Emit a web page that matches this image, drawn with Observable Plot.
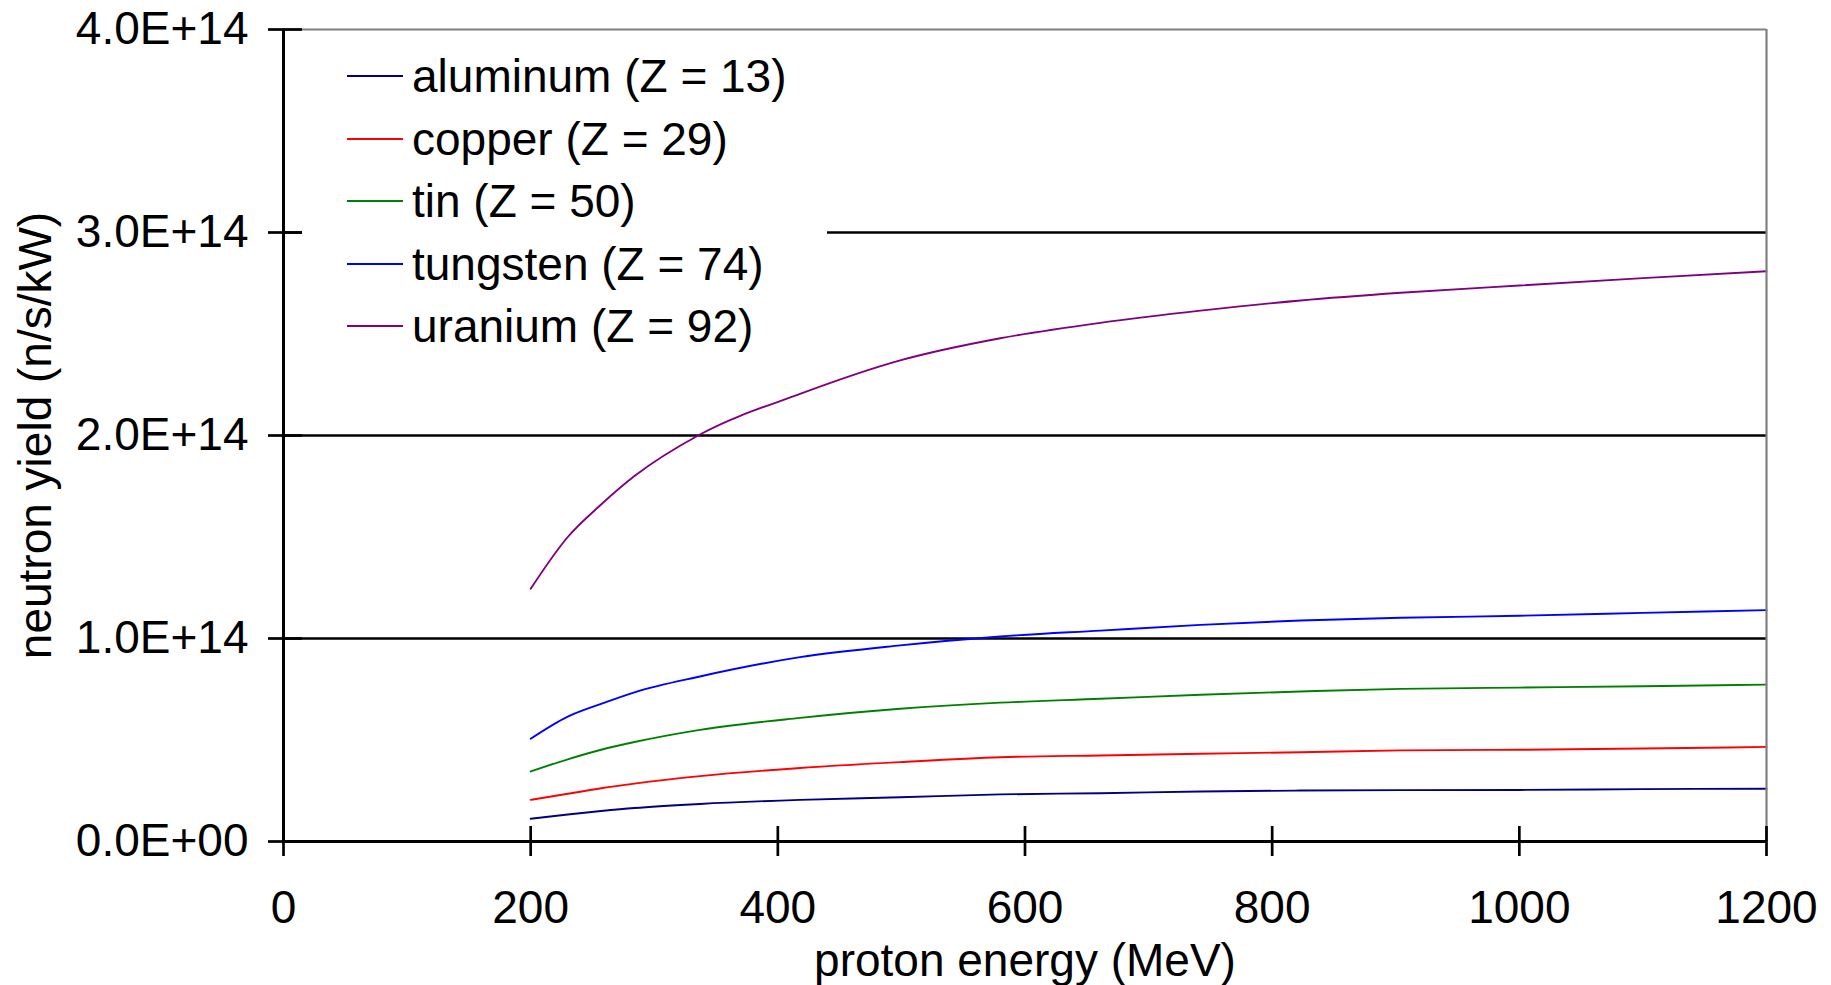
<!DOCTYPE html>
<html>
<head>
<meta charset="utf-8">
<script src="https://cdn.jsdelivr.net/npm/d3@7"></script>
<script src="https://cdn.jsdelivr.net/npm/@observablehq/plot@0.6"></script>
<style>
  html, body { margin: 0; padding: 0; background: #fff; }
  #wrap { position: relative; width: 1831px; height: 985px; font-family: "Liberation Sans", Arial, sans-serif; }
  #legend { position: absolute; left: 302px; top: 42px; width: 525px; height: 318px; background: #fff; }
  .row { position: absolute; left: 45px; height: 62px; display: flex; align-items: center; white-space: nowrap; }
  .swatch { display: inline-block; width: 56px; height: 2px; }
  .lab { margin-left: 9px; font-size: 46px; line-height: 1; color: #000; }
</style>
</head>
<body>
<div id="wrap"></div>
<script>
// ---- data (values in n/s/kW) ----
const energies = [200, 230, 257, 284, 337, 418, 499, 580, 661, 742, 823, 904, 1000, 1100, 1200];
const aluminum = [0.112, 0.133, 0.150, 0.165, 0.185, 0.205, 0.218, 0.232, 0.238, 0.246, 0.251, 0.253, 0.254, 0.258, 0.260].map(v => v * 1e14);
const copper   = [0.205, 0.235, 0.262, 0.285, 0.322, 0.362, 0.391, 0.415, 0.424, 0.432, 0.440, 0.449, 0.452, 0.458, 0.466].map(v => v * 1e14);
const tin      = [0.345, 0.405, 0.452, 0.490, 0.550, 0.609, 0.654, 0.684, 0.703, 0.723, 0.739, 0.752, 0.758, 0.765, 0.773].map(v => v * 1e14);
const tungsten = [0.506, 0.615, 0.678, 0.735, 0.813, 0.908, 0.966, 1.010, 1.039, 1.067, 1.089, 1.102, 1.112, 1.126, 1.140].map(v => v * 1e14);
const uranium  = [1.245, 1.500, 1.660, 1.800, 2.005, 2.205, 2.370, 2.479, 2.555, 2.615, 2.665, 2.703, 2.739, 2.775, 2.809].map(v => v * 1e14);

const seriesNames = ["aluminum (Z = 13)", "copper (Z = 29)", "tin (Z = 50)", "tungsten (Z = 74)", "uranium (Z = 92)"];
const seriesValues = [aluminum, copper, tin, tungsten, uranium];
const seriesColors = ["#000080", "#ff0000", "#008000", "#0000ff", "#800080"];

const xTicks = [0, 200, 400, 600, 800, 1000, 1200];
const yTicks = [0, 1e14, 2e14, 3e14, 4e14];
const gridTicks = [1e14, 2e14, 3e14];
const xTitle = "proton energy (MeV)";
const yTitle = "neutron yield (n/s/kW)";

// ---- table ----
const rows = [];
seriesNames.forEach((name, s) => {
  energies.forEach((e, i) => rows.push({energy: e, value: seriesValues[s][i], material: name}));
});

const fmt = d => {
  const [m, e] = d.toExponential(1).split("e");
  const sign = e[0] === "-" ? "-" : "+";
  return m + "E" + sign + e.replace(/[+-]/, "").padStart(2, "0");
};

const FS = 46;

const chart = Plot.plot({
  width: 1831,
  height: 985,
  marginLeft: 283,
  marginRight: 65,
  marginTop: 29,
  marginBottom: 144,
  x: {domain: [0, 1200], label: null},
  y: {domain: [0, 4e14], label: null},
  color: {domain: seriesNames, range: seriesColors},
  style: {fontFamily: "'Liberation Sans', Arial, sans-serif", fontSize: FS + "px", color: "#000", background: "#fff", overflow: "visible"},
  marks: [
    Plot.ruleY(gridTicks, {stroke: "#000", strokeWidth: 2.5}),
    Plot.line(rows, {x: "energy", y: "value", z: "material", stroke: "material", strokeWidth: 1.9, curve: "monotone-x"}),
    Plot.ruleY([4e14], {stroke: "#808080", strokeWidth: 2.2}),
    Plot.ruleX([1200], {stroke: "#808080", strokeWidth: 2.2}),
    Plot.ruleX([0], {stroke: "#000", strokeWidth: 3}),
    Plot.ruleY([0], {stroke: "#000", strokeWidth: 3}),
    Plot.axisX(xTicks, {tickSize: 15, tickPadding: 34, fontSize: FS, strokeWidth: 2.7, tickFormat: d => String(d)}),
    Plot.ruleX(xTicks, {x: d => d, y1: 0, y2: 0, insetTop: -15, stroke: "#000", strokeWidth: 2.7}),
    Plot.axisY(yTicks, {tickSize: 15, tickPadding: 20, fontSize: FS, strokeWidth: 2.7, tickFormat: fmt}),
    Plot.ruleY(yTicks, {y: d => d, x1: 0, x2: 0, insetRight: -19, stroke: "#000", strokeWidth: 2.7}),
    Plot.text([xTitle], {text: d => d, frameAnchor: "bottom", textAnchor: "middle", lineAnchor: "bottom", dy: 134, fontSize: FS, fill: "#000"}),
    Plot.text([yTitle], {text: d => d, frameAnchor: "left", textAnchor: "middle", lineAnchor: "bottom", rotate: -90, dx: -233, fontSize: FS, fill: "#000"})
  ]
});

const wrap = document.getElementById("wrap");
wrap.appendChild(chart);

// ---- legend (overlay inside plot area) ----
const legend = document.createElement("div");
legend.id = "legend";
const legendTop = 42, firstRow = 76.3, rowStep = 62.4;
seriesNames.forEach((name, i) => {
  const row = document.createElement("div");
  row.className = "row";
  row.style.top = (firstRow + i * rowStep - legendTop - 31) + "px";
  const sw = document.createElement("span");
  sw.className = "swatch";
  sw.style.background = seriesColors[i];
  const lab = document.createElement("span");
  lab.className = "lab";
  lab.textContent = name;
  row.appendChild(sw);
  row.appendChild(lab);
  legend.appendChild(row);
});
wrap.appendChild(legend);
</script>
</body>
</html>
